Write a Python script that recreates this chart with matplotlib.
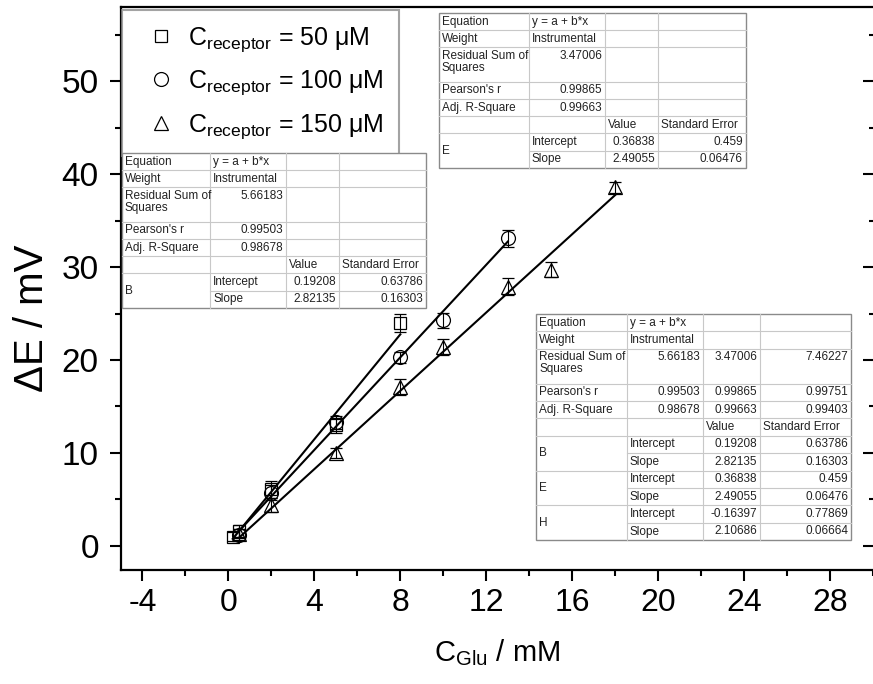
import numpy as np
import matplotlib
matplotlib.use('Agg')
from matplotlib import pyplot as plt
from matplotlib.lines import Line2D
from matplotlib.patches import Rectangle
from matplotlib.ticker import MultipleLocator

# data (x in mM, y in mV)
x_50 = [0.2, 0.5, 2, 5, 8]
y_50 = [1.0, 1.6, 6.1, 13.0, 24.0]
e_50 = [0.5, 0.6, 0.9, 0.8, 1.0]

x_100 = [0.5, 2, 5, 8, 10, 13]
y_100 = [1.2, 5.7, 13.3, 20.3, 24.3, 33.1]
e_100 = [0.6, 0.8, 0.7, 0.6, 0.8, 0.9]

x_150 = [0.5, 2, 5, 8, 10, 13, 15, 18]
y_150 = [1.3, 4.4, 10.0, 17.1, 21.4, 27.9, 29.7, 38.6]
e_150 = [0.5, 0.8, 0.5, 0.9, 0.9, 0.9, 0.8, 0.6]

conc = ['50', '100', '150']
markers = ['s', 'o', '^']

# linear fit output (Origin tables)
fit_names = ['B', 'E', 'H']
intercept = [0.19208, 0.36838, -0.16397]
intercept_err = [0.63786, 0.459, 0.77869]
slope = [2.82135, 2.49055, 2.10686]
slope_err = [0.16303, 0.06476, 0.06664]
rss = [5.66183, 3.47006, 7.46227]
pearson = [0.99503, 0.99865, 0.99751]
adj_r2 = [0.98678, 0.99663, 0.99403]

x_ticks = [-4, 0, 4, 8, 12, 16, 20, 24, 28]
y_ticks = [0, 10, 20, 30, 40, 50]

plt.rcParams['font.family'] = 'Liberation Sans'
plt.rcParams['mathtext.fontset'] = 'custom'
plt.rcParams['mathtext.rm'] = 'Liberation Sans'
plt.rcParams['mathtext.it'] = 'Liberation Sans:italic'
plt.rcParams['mathtext.bf'] = 'Liberation Sans:bold'
plt.rcParams['axes.unicode_minus'] = False

W, H = 873, 684
TFS = 8.5  # table font size


def fx(px):
    return px / W


def fy(py):
    return 1 - py / H


def fit_rows(idx):
    def vals(arr):
        return [str(arr[i]) for i in idx] + [''] * (3 - len(idx))
    rows = [
        (1, ['Equation', 'y = a + b*x', '', '']),
        (1, ['Weight', 'Instrumental', '', '']),
        (2, ['Residual Sum of\nSquares'] + vals(rss)),
        (1, ["Pearson's r"] + vals(pearson)),
        (1, ['Adj. R-Square'] + vals(adj_r2)),
        (1, ['', '', 'Value', 'Standard Error']),
    ]
    for i in idx:
        rows.append((1, [fit_names[i], 'Intercept', str(intercept[i]), str(intercept_err[i])]))
        rows.append((1, [None, 'Slope', str(slope[i]), str(slope_err[i])]))
    return rows


def is_number(s):
    try:
        float(s)
        return True
    except ValueError:
        return False


def draw_table(fig, left, top, col_w, unit, rows):
    xs = np.concatenate([[left], left + np.cumsum(col_w)])
    ys = np.concatenate([[top], top + unit * np.cumsum([r[0] for r in rows])])
    right, bottom = xs[-1], ys[-1]
    fig.add_artist(Rectangle((fx(left), fy(bottom)), fx(right) - fx(left), fy(top) - fy(bottom),
                             transform=fig.transFigure, facecolor='white',
                             edgecolor='#8a8a8a', lw=1.0, zorder=5))
    for x in xs[1:-1]:
        fig.add_artist(Line2D([fx(x), fx(x)], [fy(top), fy(bottom)], transform=fig.transFigure,
                              color='#c8c8c8', lw=0.8, zorder=6))
    for i in range(1, len(rows)):
        x0 = xs[1] if rows[i][1][0] is None else left
        fig.add_artist(Line2D([fx(x0), fx(right)], [fy(ys[i]), fy(ys[i])], transform=fig.transFigure,
                              color='#c8c8c8', lw=0.8, zorder=6))
    for i, (n, cells) in enumerate(rows):
        for j, text in enumerate(cells):
            if not text:
                continue
            if j == 0 and i + 1 < len(rows) and rows[i + 1][1][0] is None:
                centers = [(ys[i] + ys[i + 2]) / 2]
                lines = [text]
            else:
                lines = text.split('\n')
                centers = [ys[i] + unit * 0.5 + 11.5 * k for k in range(len(lines))]
            for line, yc in zip(lines, centers):
                if is_number(line):
                    fig.text(fx(xs[j + 1] - 3), fy(yc), line, ha='right', va='center',
                             fontsize=TFS, color='#222222', zorder=7)
                else:
                    fig.text(fx(xs[j] + 3), fy(yc), line, ha='left', va='center',
                             fontsize=TFS, color='#222222', zorder=7)


fig = plt.figure(figsize=(8.73, 6.84), dpi=100)
ax = fig.add_axes([121 / W, 114 / H, 752 / W, 563 / H])

series = [(x_50, y_50, e_50), (x_100, y_100, e_100), (x_150, y_150, e_150)]
handles = []
for k, (xv, yv, ev) in enumerate(series):
    ms = 9 if markers[k] == 's' else 10
    ax.errorbar(xv, yv, yerr=ev, fmt=markers[k], mfc='none', mec='black', ms=ms, mew=0.9,
                ecolor='black', elinewidth=0.8, capsize=4.5, capthick=0.8, zorder=3)
    xs = np.array([xv[0], xv[-1]])
    ax.plot(xs, intercept[k] + slope[k] * xs, color='black', lw=1.5, zorder=2)
    handles.append(Line2D([], [], ls='none', marker=markers[k], mfc='none', mec='black',
                          ms=ms, mew=0.9))

ax.set_xlim(-5, 30)
ax.set_ylim(-2.6, 58)
ax.set_xticks(x_ticks)
ax.set_yticks(y_ticks)
ax.xaxis.set_minor_locator(MultipleLocator(2))
ax.yaxis.set_minor_locator(MultipleLocator(5))
ax.tick_params(which='both', direction='out', width=1.5)
ax.tick_params(which='major', length=8)
ax.tick_params(which='minor', length=4.5)
ax.tick_params(axis='x', labelsize=23, pad=5)
ax.tick_params(axis='y', labelsize=24, pad=8)
ax.spines['right'].set_visible(False)
for s in ['left', 'bottom', 'top']:
    ax.spines[s].set_linewidth(1.6)

# inward ticks on the right side
ax2 = ax.twinx()
ax2.set_ylim(ax.get_ylim())
ax2.set_yticks(y_ticks)
ax2.yaxis.set_minor_locator(MultipleLocator(5))
ax2.tick_params(which='both', direction='in', width=1.5, labelright=False)
ax2.tick_params(which='major', length=7)
ax2.tick_params(which='minor', length=3)
for s in ax2.spines.values():
    s.set_visible(False)

ax.set_xlabel(r'C$_{\mathrm{Glu}}$ / mM', fontsize=21)
ax.xaxis.set_label_coords(0.5, -0.12)
ax.set_ylabel('ΔE / mV', fontsize=29, va='center')
ax.yaxis.set_label_coords(-0.118, 0.448)

leg = ax2.legend(handles, [r'C$_{\mathrm{receptor}}$ = ' + c + ' μM' for c in conc],
                 loc='upper left', bbox_to_anchor=(1 / 752, 1 - 3 / 563), borderaxespad=0,
                 fontsize=18, frameon=True, fancybox=False, edgecolor='#8c8c8c',
                 handlelength=1.9, handletextpad=0.15, labelspacing=0.6, borderpad=0.6)
leg.get_frame().set_linewidth(1.5)

draw_table(fig, 122, 153, [88, 76, 53, 87], 17.2, fit_rows([0]))
draw_table(fig, 439, 13, [90, 76, 53, 88], 17.2, fit_rows([1]))
draw_table(fig, 536, 314, [91, 76, 57, 91], 17.4, fit_rows([0, 1, 2]))

fig.savefig('out.png', dpi=100)
